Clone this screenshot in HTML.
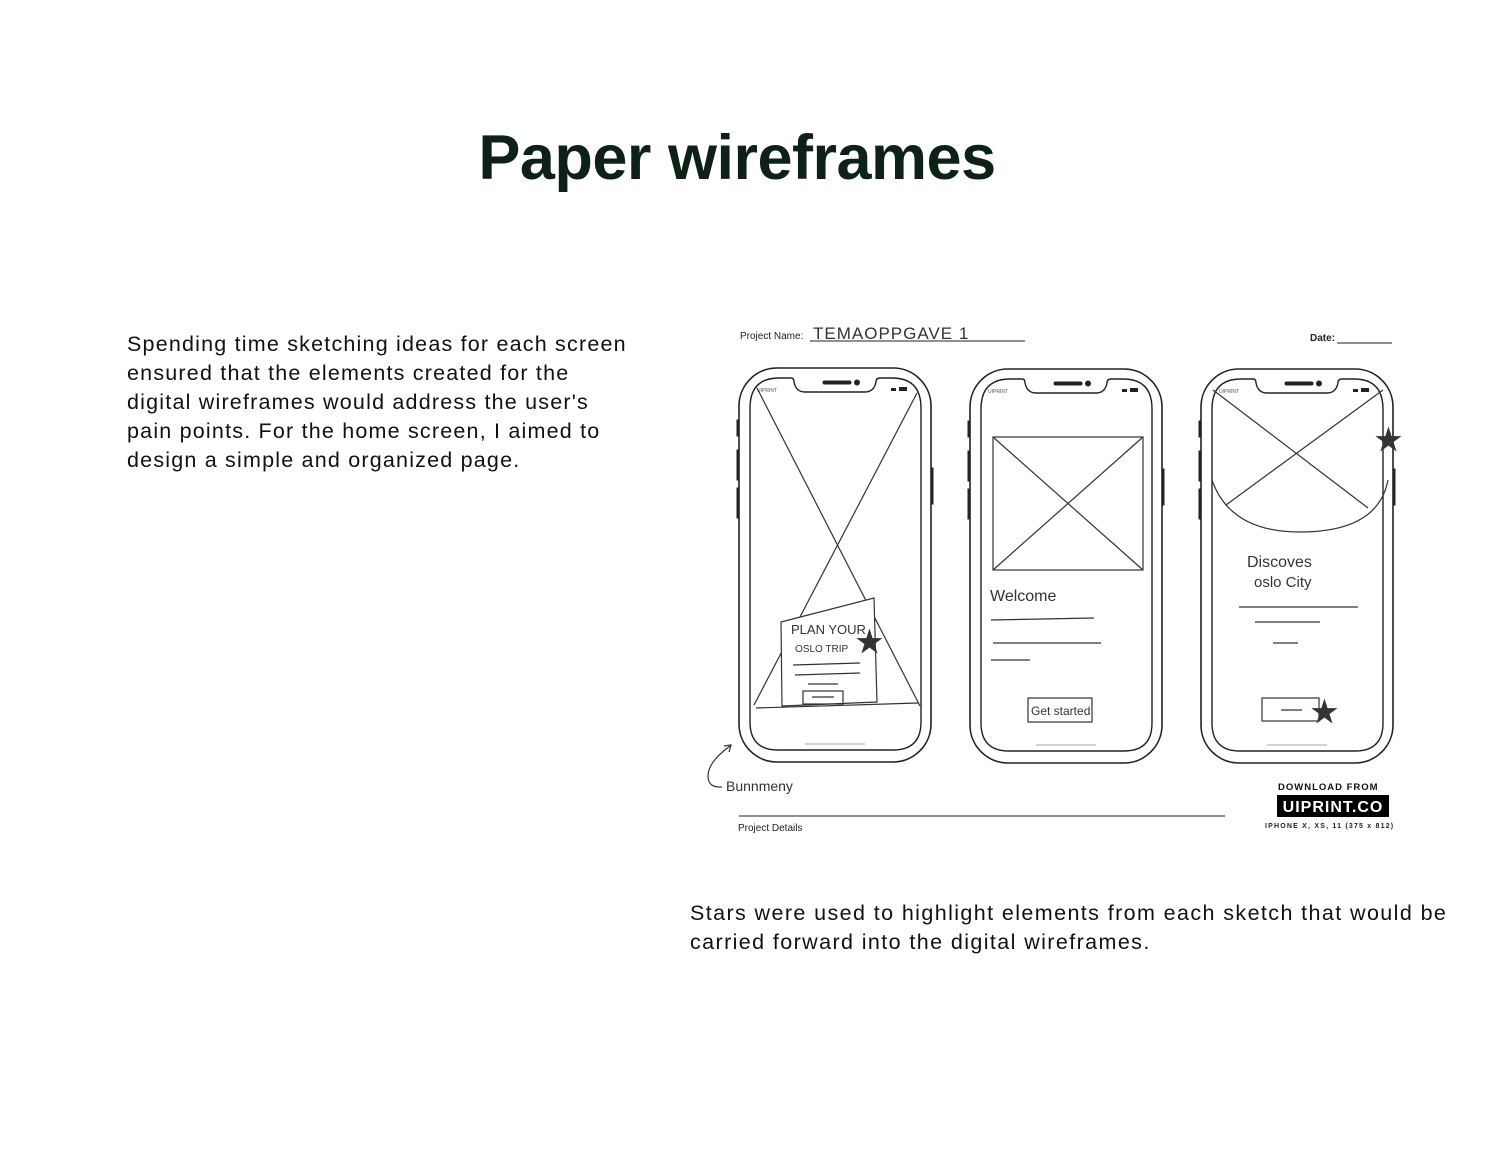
<!DOCTYPE html>
<html><head><meta charset="utf-8"><style>
body{margin:0;background:#fff;}
.p{position:absolute;font-family:"Liberation Sans",sans-serif;color:#111;white-space:nowrap;}
</style></head><body>
<div style="position:relative;width:1511px;height:1163px;overflow:hidden;background:#fff">
<div class="p" style="left:0;width:1474px;top:122px;text-align:center;font-size:63px;font-weight:bold;color:#0d2116;letter-spacing:-0.5px">Paper wireframes</div>
<div class="p" style="left:127px;top:330px;font-size:21.5px;line-height:29px;letter-spacing:1.2px">Spending time sketching ideas for each screen<br>ensured that the elements created for the<br>digital wireframes would address the user's<br>pain points. For the home screen, I aimed to<br>design a simple and organized page.</div>
<div class="p" style="left:690px;top:899px;font-size:21.5px;line-height:29px;letter-spacing:1.4px">Stars were used to highlight elements from each sketch that would be<br>carried forward into the digital wireframes.</div>
<svg width="1511" height="1163" style="position:absolute;left:0;top:0" font-family="Liberation Sans, sans-serif">
<defs>
<g id="ph" fill="none" stroke="#222">
<rect x="0" y="0" width="192" height="394" rx="38" stroke-width="1.6"/>
<path d="M11 40 Q11 10 40 10 L52 10 Q55 10 55 14 Q57 24 66 24 L126 24 Q135 24 137 14 Q137 10 141 10 L153 10 Q182 10 182 40 L182 354 Q182 382 154 382 L39 382 Q11 382 11 354 Z" stroke-width="1.4"/>
<rect x="84" y="13" width="28" height="3" rx="1.5" fill="#222"/>
<circle cx="118" cy="14.5" r="2.5" fill="#222"/>
<rect x="-2" y="52" width="2" height="16" fill="#222"/>
<rect x="-2" y="82" width="2" height="30" fill="#222"/>
<rect x="-2" y="120" width="2" height="30" fill="#222"/>
<rect x="192" y="100" width="2" height="36" fill="#222"/>
<text x="18" y="24" font-size="5" fill="#555" stroke="none">UIPRINT</text>
<rect x="160" y="19" width="8" height="4" fill="#222" stroke="none"/>
<rect x="152" y="20" width="5" height="3" fill="#222" stroke="none"/>
<line x1="66" y1="376" x2="126" y2="376" stroke="#aaa" stroke-width="1"/>
</g>
</defs>
<text x="740" y="339" font-size="10" fill="#222">Project Name:</text>
<text x="813" y="339" font-size="17" fill="#333" letter-spacing="1">TEMAOPPGAVE 1</text>
<line x1="810" y1="341" x2="1025" y2="341" stroke="#222" stroke-width="1"/>
<text x="1310" y="341" font-size="10" fill="#222" font-weight="bold">Date:</text>
<line x1="1337" y1="343" x2="1392" y2="343" stroke="#222"/>
<use href="#ph" x="739" y="368"/>
<use href="#ph" x="970" y="369"/>
<use href="#ph" x="1201" y="369"/>
<g fill="none" stroke="#333" stroke-width="1.2">
<line x1="757" y1="388" x2="920" y2="706"/><line x1="917" y1="393" x2="754" y2="705"/>
<line x1="756" y1="708" x2="918" y2="703"/>
<path d="M781 622 L874 598 L877 702 L782 706 Z" fill="#fff"/>
<line x1="793" y1="665" x2="860" y2="663"/><line x1="795" y1="675" x2="860" y2="673"/><line x1="808" y1="684" x2="838" y2="684"/>
<rect x="803" y="691" width="40" height="13"/><line x1="812" y1="697" x2="834" y2="697"/>
<rect x="993" y="437" width="150" height="133"/><line x1="993" y1="437" x2="1143" y2="570"/><line x1="1143" y1="437" x2="993" y2="570"/>
<line x1="991" y1="620" x2="1094" y2="618"/><line x1="993" y1="643" x2="1101" y2="643"/><line x1="991" y1="660" x2="1030" y2="660"/>
<rect x="1028" y="698" width="64" height="24"/>
<line x1="1213" y1="390" x2="1368" y2="508"/><line x1="1383" y1="390" x2="1226" y2="505"/>
<path d="M1212 480 Q1230 532 1300 532 Q1378 532 1388 480"/>
<line x1="1239" y1="607" x2="1358" y2="607"/><line x1="1255" y1="622" x2="1320" y2="622"/><line x1="1273" y1="643" x2="1298" y2="643"/>
<rect x="1262" y="698" width="57" height="23"/><line x1="1281" y1="710" x2="1302" y2="710"/>
<path d="M730 746 Q708 762 708 776 Q708 788 722 787"/><path d="M724 746 L731 745 L729 752"/>
</g>
<g font-size="13" fill="#333" font-family="Liberation Sans, sans-serif">
<text x="791" y="634">PLAN YOUR</text>
<text x="795" y="652" font-size="10">OSLO TRIP</text>
<text x="990" y="601" font-size="16">Welcome</text>
<text x="1031" y="715" font-size="12">Get started</text>
<text x="1247" y="567" font-size="16">Discoves</text>
<text x="1254" y="587" font-size="15">oslo City</text>
<text x="726" y="791" font-size="14">Bunnmeny</text>
</g>
<g fill="#333" font-size="30" font-weight="bold">
<text x="856" y="652">★</text><text x="1375" y="450">★</text><text x="1311" y="722">★</text>
</g>
<line x1="739" y1="816" x2="1225" y2="816" stroke="#222"/>
<text x="738" y="831" font-size="10" fill="#222">Project Details</text>
<text x="1278" y="790" font-size="9.5" font-weight="bold" fill="#111" letter-spacing="1">DOWNLOAD FROM</text>
<rect x="1277" y="795" width="112" height="22" fill="#000"/>
<text x="1333" y="812" font-size="16" font-weight="bold" fill="#fff" text-anchor="middle" letter-spacing="1">UIPRINT.CO</text>
<text x="1265" y="828" font-size="7" font-weight="bold" fill="#222" letter-spacing="1.2">IPHONE X, XS, 11 (375 x 812)</text>
</svg>
</div>
</body></html>
